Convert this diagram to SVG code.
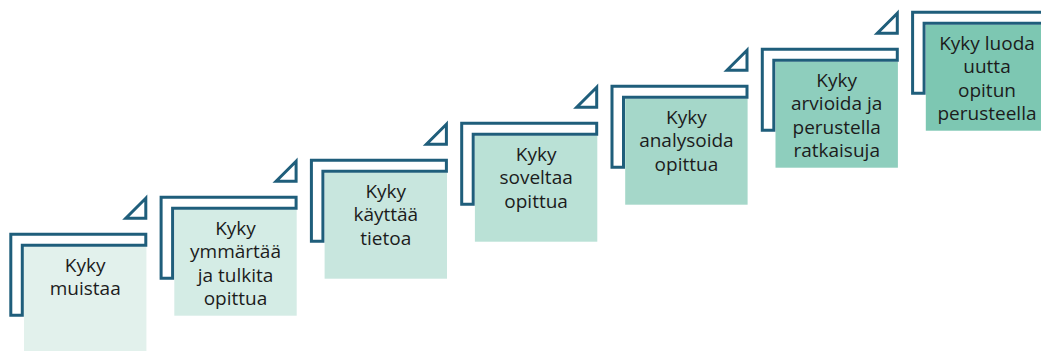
<svg xmlns="http://www.w3.org/2000/svg" xmlns:xlink="http://www.w3.org/1999/xlink" width="1041" height="351" viewBox="0 0 1041 351">
<style>
.frame{fill:#fff;stroke:#1F5E7B;stroke-width:3}
.lbl{font-family:"Open Sans","Liberation Sans",sans-serif;font-size:19px;fill:#1c1c1c;text-anchor:middle}
</style>
<defs>
<path id="L" class="frame" d="M1.5,1.5 H136.5 V12.5 H13 V82.5 H1.5 Z"/>
<path id="T" class="frame" d="M136.5,-34.5 L116.5,-14.5 H136.5 Z"/>
</defs>
<rect width="1041" height="351" fill="#fff"/>
<g id="step1" transform="translate(9.3,232.7)">
<rect x="14.7" y="14" width="122.4" height="106" fill="#E2F1EC"/>
<use xlink:href="#L"/><use xlink:href="#T"/>
<text class="lbl" x="75.9" y="39"><tspan x="75.9">Kyky</tspan><tspan x="75.9" dy="23.5">muistaa</tspan></text>
</g>
<g id="step2" transform="translate(159.6,195.7)">
<rect x="14.7" y="14" width="122.4" height="106" fill="#D4ECE5"/>
<use xlink:href="#L"/><use xlink:href="#T"/>
<text class="lbl" x="75.9" y="39"><tspan x="75.9">Kyky</tspan><tspan x="75.9" dy="23.5">ymmärtää</tspan><tspan x="75.9" dy="23.5">ja tulkita</tspan><tspan x="75.9" dy="23.5">opittua</tspan></text>
</g>
<g id="step3" transform="translate(309.9,158.7)">
<rect x="14.7" y="14" width="122.4" height="106" fill="#C8E6DE"/>
<use xlink:href="#L"/><use xlink:href="#T"/>
<text class="lbl" x="75.9" y="39"><tspan x="75.9">Kyky</tspan><tspan x="75.9" dy="23.5">käyttää</tspan><tspan x="75.9" dy="23.5">tietoa</tspan></text>
</g>
<g id="step4" transform="translate(460.2,121.7)">
<rect x="14.7" y="14" width="122.4" height="106" fill="#BAE1D6"/>
<use xlink:href="#L"/><use xlink:href="#T"/>
<text class="lbl" x="75.9" y="39"><tspan x="75.9">Kyky</tspan><tspan x="75.9" dy="23.5">soveltaa</tspan><tspan x="75.9" dy="23.5">opittua</tspan></text>
</g>
<g id="step5" transform="translate(610.5,84.7)">
<rect x="14.7" y="14" width="122.4" height="106" fill="#A5D7C9"/>
<use xlink:href="#L"/><use xlink:href="#T"/>
<text class="lbl" x="75.9" y="39"><tspan x="75.9">Kyky</tspan><tspan x="75.9" dy="23.5">analysoida</tspan><tspan x="75.9" dy="23.5">opittua</tspan></text>
</g>
<g id="step6" transform="translate(760.8,47.7)">
<rect x="14.7" y="14" width="122.4" height="106" fill="#8ECEBD"/>
<use xlink:href="#L"/><use xlink:href="#T"/>
<text class="lbl" x="75.9" y="39"><tspan x="75.9">Kyky</tspan><tspan x="75.9" dy="23.5">arvioida ja</tspan><tspan x="75.9" dy="23.5">perustella</tspan><tspan x="75.9" dy="23.5">ratkaisuja</tspan></text>
</g>
<g id="step7" transform="translate(911.1,10.7)">
<rect x="14.7" y="14" width="122.4" height="106" fill="#7DC7B2"/>
<use xlink:href="#L"/>
<text class="lbl" x="75.9" y="39"><tspan x="75.9">Kyky luoda</tspan><tspan x="75.9" dy="23.5">uutta</tspan><tspan x="75.9" dy="23.5">opitun</tspan><tspan x="75.9" dy="23.5">perusteella</tspan></text>
</g>
<g id="connectors"></g>
</svg>
